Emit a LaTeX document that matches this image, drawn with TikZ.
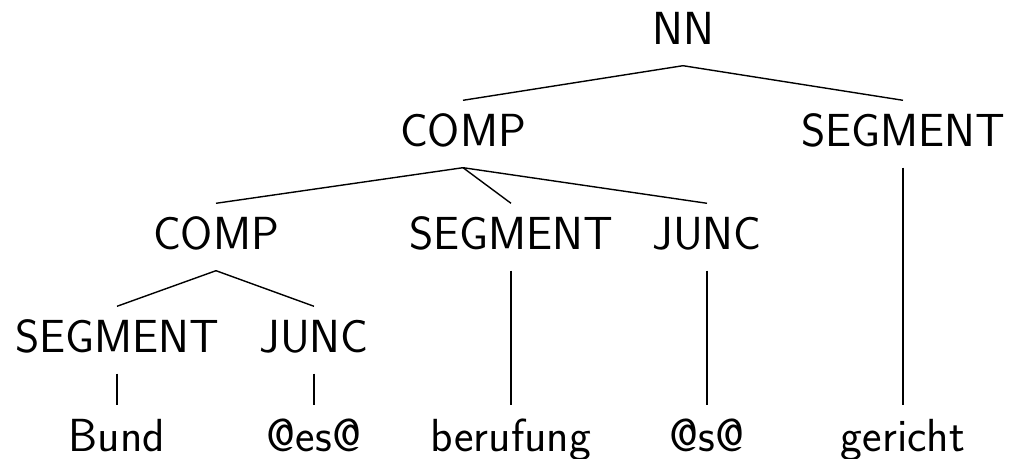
\documentclass[tikz,border=0pt]{standalone}
\usepackage{tikz}
\tikzset{
  cat/.style={anchor=base, inner sep=0pt, text height=23pt, text depth=10pt,
    font=\fontsize{23.2pt}{28pt}\sffamily},
  word/.style={cat},
}

\begin{document}
\begin{tikzpicture}[x=0.5pt, y=-0.5pt, line width=0.7pt]
\useasboundingbox (0,0) rectangle (1009,459);

\node[cat] (nn) at (683,45) {NN};

\node[cat] (comp1) at (463,147) {COMP};
\node[cat] (seg1) at (903,147) {SEGMENT};

\node[cat] (comp2) at (216,250) {COMP};
\node[cat] (seg2) at (511,250) {SEGMENT};
\node[cat] (junc2) at (707,250) {JUNC};

\node[cat] (seg3) at (117,353) {SEGMENT};
\node[cat] (junc3) at (314,353) {JUNC};

\node[word] (bund) at (117,452) {Bund};
\node[word] (es) at (314,452) {@es@};
\node[word] (berufung) at (511,452) {berufung};
\node[word] (s) at (707,452) {@s@};
\node[word] (gericht) at (903,452) {gericht};

\path
(nn.south) edge (comp1.north)
(nn.south) edge (seg1.north)
(comp1.south) edge (comp2.north)
(comp1.south) edge (seg2.north)
(comp1.south) edge (junc2.north)
(comp2.south) edge (seg3.north)
(comp2.south) edge (junc3.north)
(seg3.south) edge (bund.north)
(junc3.south) edge (es.north)
(seg2.south) edge (berufung.north)
(junc2.south) edge (s.north)
(seg1.south) edge (gericht.north);

\end{tikzpicture}
\end{document}
